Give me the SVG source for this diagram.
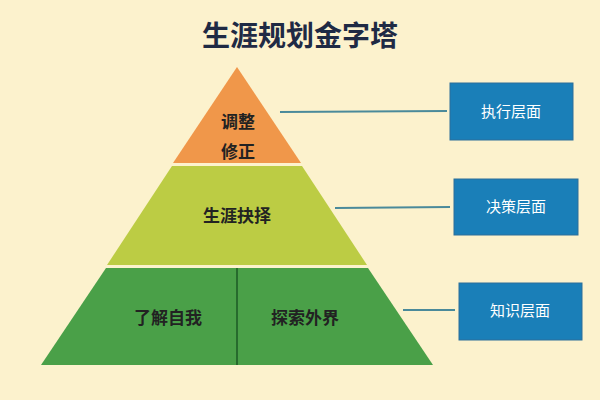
<svg xmlns="http://www.w3.org/2000/svg" width="600" height="400" viewBox="0 0 600 400">
<style>
.t{font-family:"Noto Sans CJK SC",sans-serif;font-weight:bold;fill:#222;font-size:17px;text-anchor:middle}
.b{fill:#1a7fb8;stroke:#2d6f9a;stroke-width:1}
.bt{font-family:"Noto Sans CJK SC",sans-serif;fill:#fff;font-size:15px;text-anchor:middle}
.c{stroke:#4a8a9a;stroke-width:2;fill:none}
</style>
<rect width="600" height="400" fill="#fcf2cd"/>
<text x="300" y="46" font-family="Noto Sans CJK SC,sans-serif" font-weight="bold" font-size="28" fill="#1f2a44" text-anchor="middle">生涯规划金字塔</text>
<g id="top"><polygon points="237,67 301,163 173,163" fill="#f0974a"/>
<text class="t" x="238" y="128">调整</text><text class="t" x="238" y="158">修正</text></g>
<g id="mid"><polygon points="172,166 302,166 367,265 107,265" fill="#bccc44"/>
<text class="t" x="237" y="222">生涯抉择</text></g>
<g id="bot"><polygon points="106,268 368,268 433,365 41,365" fill="#4aa048"/>
<line x1="237" y1="268" x2="237" y2="365" stroke="#1d5a25" stroke-width="1.5"/>
<text class="t" x="168" y="324">了解自我</text><text class="t" x="305" y="324">探索外界</text></g>
<g id="connectors">
<line class="c" x1="280" y1="112" x2="447" y2="111"/>
<line class="c" x1="335" y1="208" x2="450" y2="207"/>
<line class="c" x1="403" y1="310" x2="455" y2="310"/>
</g>
<g id="b1"><rect class="b" x="450" y="83" width="123" height="57"/><text class="bt" x="511" y="117">执行层面</text></g>
<g id="b2"><rect class="b" x="454" y="179" width="124" height="56"/><text class="bt" x="516" y="212">决策层面</text></g>
<g id="b3"><rect class="b" x="459" y="283" width="123" height="57"/><text class="bt" x="520" y="316">知识层面</text></g>
</svg>
